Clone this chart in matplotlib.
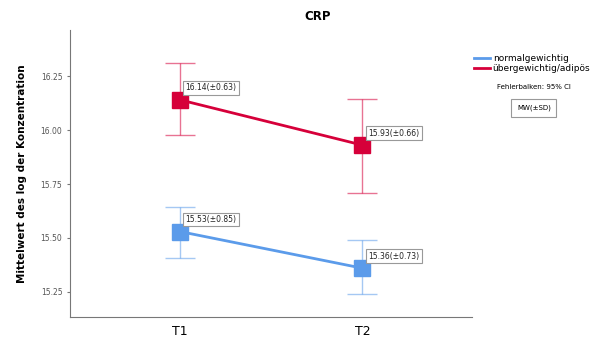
import matplotlib.pyplot as plt

zeitpunkte = ["T1", "T2"]
gruppen = ["normalgewichtig", "übergewichtig/adipös"]
mw_normal = [15.53, 15.36]
sd_normal = [0.85, 0.73]
ci_lo_normal = [15.407, 15.24]
ci_hi_normal = [15.644, 15.49]
mw_adipos = [16.14, 15.93]
sd_adipos = [0.63, 0.66]
ci_lo_adipos = [15.977, 15.708]
ci_hi_adipos = [16.31, 16.144]
farben = ["#5b9bea", "#d6003a"]

fig = plt.figure(figsize=(6.02, 3.38), dpi=100)
ax = fig.add_axes([0.1163, 0.0621, 0.668, 0.849])

x = [0, 1]
daten = [(mw_normal, sd_normal, ci_lo_normal, ci_hi_normal),
         (mw_adipos, sd_adipos, ci_lo_adipos, ci_hi_adipos)]
for (mw, sd, lo, hi), farbe, name in zip(daten, farben, gruppen):
    err = [[m - l for m, l in zip(mw, lo)], [h - m for m, h in zip(mw, hi)]]
    ax.errorbar(x, mw, yerr=err, fmt="none", ecolor=farbe, alpha=0.55,
                elinewidth=1, capsize=11, capthick=1)
    ax.plot(x, mw, color=farbe, lw=2, label=name)
    ax.plot(x, mw, "s", color=farbe, ms=11, ls="none")
    for xi, m, s in zip(x, mw, sd):
        ax.annotate(f"{m:.2f}(±{s:.2f})", (xi, m), xytext=(6, 12),
                    textcoords="offset pixels", ha="left", va="center",
                    fontsize=5.5, color="#222222",
                    bbox=dict(boxstyle="square,pad=0.3", fc="white",
                              ec="#999999", lw=0.8))

ax.set_xlim(-0.6, 1.6)
ax.set_ylim(15.134, 16.463)
ax.set_xticks(x)
ax.set_xticklabels(zeitpunkte, fontsize=9)
ax.set_yticks([15.25, 15.5, 15.75, 16.0, 16.25])
ax.set_yticklabels(["15.25", "15.50", "15.75", "16.00", "16.25"],
                   fontsize=5.5, color="#555555")
ax.tick_params(axis="x", length=0, pad=6)
ax.tick_params(axis="y", length=2, color="#777777")
ax.spines["top"].set_visible(False)
ax.spines["right"].set_visible(False)
ax.spines["left"].set_color("#777777")
ax.spines["bottom"].set_color("#777777")
ax.set_ylabel("Mittelwert des log der Konzentration", fontsize=7.5,
              fontweight="bold", labelpad=10)

fig.text(0.527, 0.95, "CRP", fontsize=8.5, fontweight="bold",
         ha="center", va="center")

ax.legend(loc="upper left", bbox_to_anchor=(0.995, 0.93), frameon=False,
          fontsize=6.5, handlelength=1.8, handletextpad=0.3,
          labelspacing=0.15, borderaxespad=0)
fig.text(0.887, 0.742, "Fehlerbalken: 95% CI", fontsize=5, ha="center",
         va="center")
fig.text(0.887, 0.68, "MW(±SD)", fontsize=5, ha="center", va="center",
         bbox=dict(boxstyle="square,pad=0.8", fc="white", ec="#999999",
                   lw=0.8))

fig.savefig("out.png", dpi=100)
